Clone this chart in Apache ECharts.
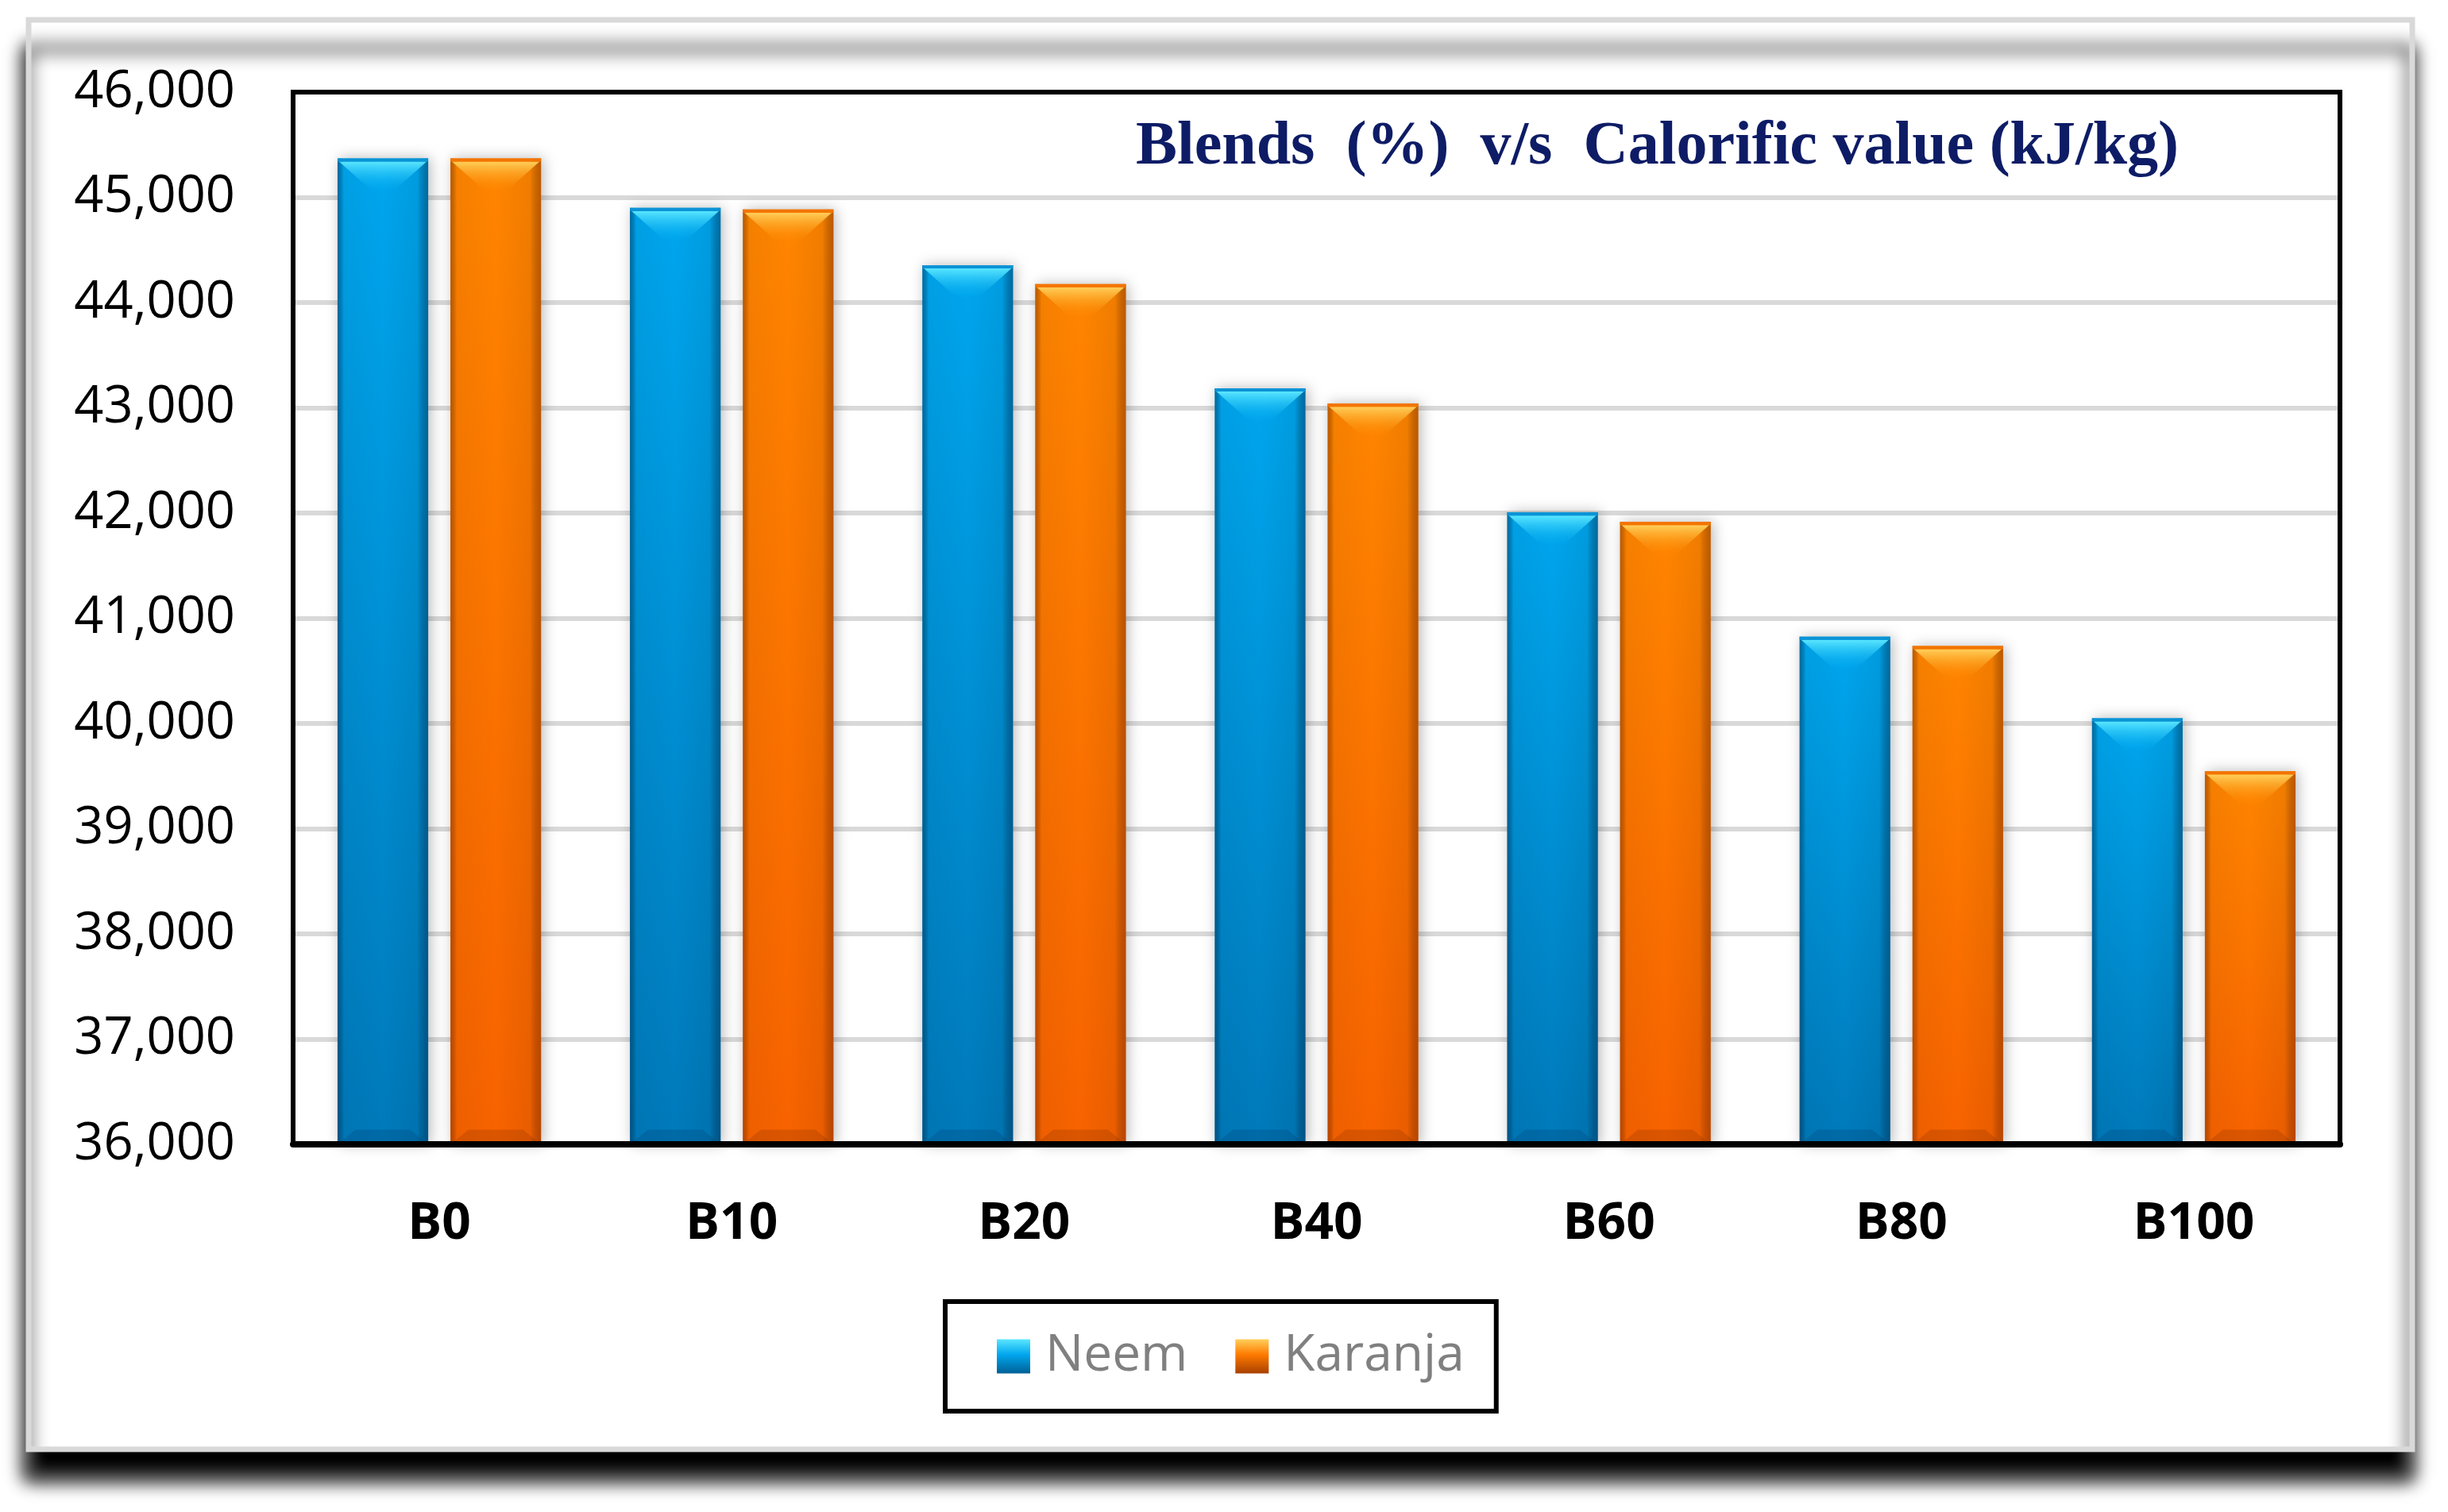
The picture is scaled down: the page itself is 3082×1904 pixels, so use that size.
<!DOCTYPE html>
<html><head><meta charset="utf-8">
<script src="https://cdn.jsdelivr.net/npm/echarts@6/dist/echarts.min.js"></script>
<style>html,body{margin:0;padding:0;background:#fff;}#c{width:3082px;height:1904px;}</style>
</head><body><div id="c"></div>
<script>
// ---- data ----
const categories = ['B0', 'B10', 'B20', 'B40', 'B60', 'B80', 'B100'];
const neem = [45370, 44900, 44355, 43185, 42005, 40825, 40050];
const karanja = [45370, 44885, 44175, 43040, 41915, 40735, 39545];
const seriesNames = ['Neem', 'Karanja'];
const yMin = 36000, yMax = 46000, yStep = 1000;
const titleText = 'Blends  (%)  v/s  Calorific value (kJ/kg)';

const LG = echarts.graphic.LinearGradient;
const palettes = [
  { top: '#00a6ee', bottom: '#0079ba', edge: 'rgba(0,45,85,0.50)', bevTop: '#5ae6ff', bevBot: 'rgba(0,175,245,0.05)', line: '#0b93d6', foot: 'rgba(0,55,100,0.22)' },
  { top: '#ff8500', bottom: '#f76200', edge: 'rgba(110,35,0,0.45)', bevTop: '#ffcf5a', bevBot: 'rgba(255,140,0,0.05)', line: '#f47400', foot: 'rgba(110,35,0,0.2)' }
];

function makeRender(si) {
  return function (params, api) {
    const ci = api.value(0), v = api.value(1);
    const pTop = api.coord([ci, v]);
    const pBase = api.coord([ci, yMin]);
    const band = api.size([1, 0])[0];
    const bw = band * 0.31, gap = band * 0.076;
    const cx = pTop[0] + (si === 0 ? -1 : 1) * (bw + gap) / 2;
    const x0 = cx - bw / 2, y0 = pTop[1], h = pBase[1] - pTop[1];
    const p = palettes[si];
    const bevH = bw * 0.36;
    return {
      type: 'group', children: [
        { type: 'rect', shape: { x: x0, y: y0, width: bw, height: h },
          style: { fill: new LG(0, 0, 0, 1, [{ offset: 0, color: p.top }, { offset: 1, color: p.bottom }]),
                   shadowBlur: 16, shadowColor: 'rgba(0,0,0,0.28)', shadowOffsetX: 3 } },
        { type: 'rect', shape: { x: x0, y: y0, width: bw, height: h },
          style: { fill: new LG(0, 0, 1, 0, [{ offset: 0, color: p.edge }, { offset: 0.07, color: 'rgba(0,0,0,0.04)' },
                   { offset: 0.5, color: 'rgba(0,0,0,0)' }, { offset: 0.88, color: 'rgba(0,0,0,0.06)' }, { offset: 1, color: p.edge }]) } },
        { type: 'polygon', shape: { points: [[x0 + 2, y0 + 4], [x0 + bw - 2, y0 + 4], [cx + bw * 0.12, y0 + bevH], [cx - bw * 0.12, y0 + bevH]] },
          style: { fill: new LG(0, 0, 0, 1, [{ offset: 0, color: p.bevTop }, { offset: 1, color: p.bevBot }]) } },
        { type: 'rect', shape: { x: x0, y: y0, width: bw, height: 4 }, style: { fill: p.line } },
        { type: 'polygon', shape: { points: [[x0, y0 + h], [x0 + bw, y0 + h], [cx + bw * 0.3, y0 + h - bevH * 0.45], [cx - bw * 0.3, y0 + h - bevH * 0.45]] },
          style: { fill: p.foot } }
      ]
    };
  };
}

const fmt = v => String(v).replace(/\B(?=(\d{3})+(?!\d))/g, ',');

const chart = echarts.init(document.getElementById('c'), null, { renderer: 'canvas' });
chart.setOption({
  animation: false,
  backgroundColor: '#ffffff',
  graphic: [{
    type: 'rect', z: -10, silent: true,
    shape: { x: 36, y: 25, width: 3001, height: 1800 },
    style: { fill: '#ffffff', stroke: '#d9d9d9', lineWidth: 7, shadowBlur: 22, shadowOffsetY: 36, shadowOffsetX: -2, shadowColor: 'rgba(0,0,0,1)' }
  }],
  title: {
    text: titleText, left: 1430, top: 147, padding: 0,
    textStyle: { fontFamily: 'Liberation Serif', fontWeight: 'bold', fontSize: 78, color: '#0e1c66' }
  },
  legend: {
    left: 1190, top: 1639, orient: 'horizontal',
    padding: [37, 40, 37, 65],
    borderColor: '#000', borderWidth: 6,
    itemWidth: 42, itemHeight: 43, itemGap: 60,
    textStyle: { fontFamily: 'Open Sans', fontSize: 64, color: '#808080', padding: [0, 0, 0, 14] },
    data: [
      { name: seriesNames[0], icon: 'rect', itemStyle: { color: new LG(0, 0, 0, 1, [{ offset: 0, color: '#5ae6ff' }, { offset: 0.45, color: '#00a6ee' }, { offset: 1, color: '#005f95' }]) } },
      { name: seriesNames[1], icon: 'rect', itemStyle: { color: new LG(0, 0, 0, 1, [{ offset: 0, color: '#ffcf5a' }, { offset: 0.45, color: '#ff7a00' }, { offset: 1, color: '#a84000' }]) } }
    ]
  },
  grid: { left: 369, top: 116, width: 2577, height: 1325, show: true, borderColor: '#000', borderWidth: 6, z: 5, containLabel: false },
  xAxis: {
    type: 'category', data: categories, z: 6,
    axisLine: { lineStyle: { color: '#000', width: 8 } },
    axisTick: { show: false },
    axisLabel: { fontFamily: 'Open Sans', fontWeight: 'bold', fontSize: 64, color: '#000', margin: 69 }
  },
  yAxis: {
    type: 'value', min: yMin, max: yMax, interval: yStep,
    axisLine: { show: false }, axisTick: { show: false },
    splitLine: { lineStyle: { color: '#d9d9d9', width: 6 } },
    axisLabel: { fontFamily: 'Open Sans', fontSize: 65, color: '#000', margin: 73, formatter: fmt }
  },
  series: [
    { type: 'custom', name: seriesNames[0], renderItem: makeRender(0), encode: { x: 0, y: 1 },
      itemStyle: { color: '#00a6ee' }, data: neem.map((v, i) => [i, v]) },
    { type: 'custom', name: seriesNames[1], renderItem: makeRender(1), encode: { x: 0, y: 1 },
      itemStyle: { color: '#ff8500' }, data: karanja.map((v, i) => [i, v]) }
  ]
});
</script></body></html>
